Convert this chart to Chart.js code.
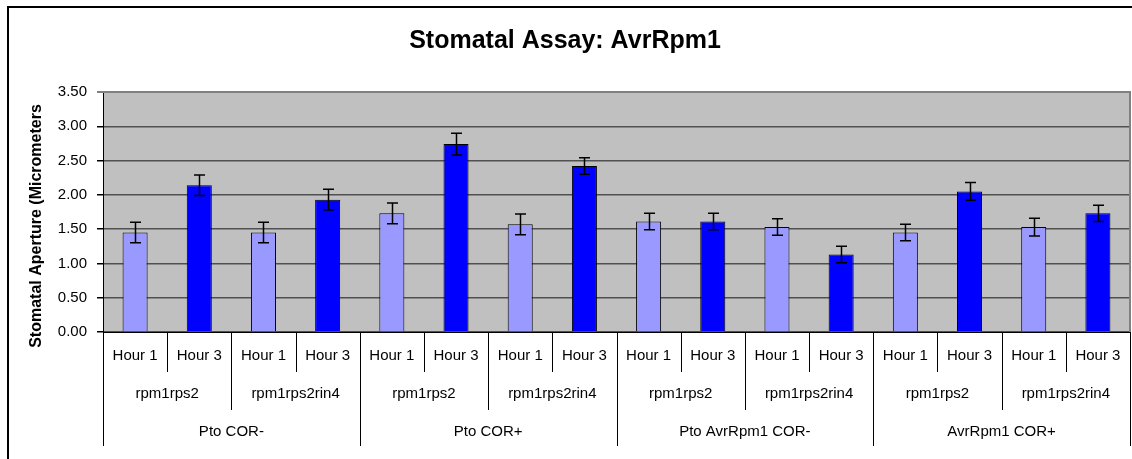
<!DOCTYPE html>
<html>
<head>
<meta charset="utf-8">
<title>Stomatal Assay: AvrRpm1</title>
<script src="https://cdn.jsdelivr.net/npm/chart.js@4.4.1/dist/chart.umd.min.js"></script>
<style>
    html, body { margin: 0; padding: 0; background: #ffffff; }
    #wrap { width: 1132px; height: 459px; }
</style>
</head>
<body>
<div id="wrap"><canvas id="chartStomata" width="1132" height="459"></canvas></div>
<script>
// chart data
var hourLabels = ['Hour 1', 'Hour 3', 'Hour 1', 'Hour 3', 'Hour 1', 'Hour 3', 'Hour 1', 'Hour 3',
                  'Hour 1', 'Hour 3', 'Hour 1', 'Hour 3', 'Hour 1', 'Hour 3', 'Hour 1', 'Hour 3'];
var genotypeLabels = ['rpm1rps2', 'rpm1rps2rin4', 'rpm1rps2', 'rpm1rps2rin4',
                      'rpm1rps2', 'rpm1rps2rin4', 'rpm1rps2', 'rpm1rps2rin4'];
var treatmentLabels = ['Pto COR-', 'Pto COR+', 'Pto AvrRpm1 COR-', 'AvrRpm1 COR+'];
var apertureValues = [1.45, 2.14, 1.45, 1.93, 1.73, 2.74, 1.57, 2.42,
                      1.61, 1.61, 1.53, 1.13, 1.45, 2.05, 1.53, 1.73];
var apertureErrors = [0.15, 0.15, 0.15, 0.15, 0.15, 0.16, 0.15, 0.12,
                      0.12, 0.12, 0.12, 0.12, 0.12, 0.13, 0.13, 0.12];
var yTicks = [0, 0.5, 1, 1.5, 2, 2.5, 3, 3.5];

var FONT = "'Liberation Sans', Arial, sans-serif";
Chart.defaults.font.family = FONT;
Chart.defaults.color = '#000000';

// grey plot area + outer frame
var backgroundPlugin = {
    id: 'plotBackground',
    beforeDraw: function (chart) {
        var ctx = chart.ctx, a = chart.chartArea;
        ctx.save();
        ctx.fillStyle = '#c0c0c0';
        ctx.fillRect(a.left, a.top, a.right - a.left, a.bottom - a.top);
        ctx.strokeStyle = '#000000';
        ctx.lineWidth = 2;
        ctx.beginPath();
        ctx.moveTo(8, 459);
        ctx.lineTo(8, 7);
        ctx.lineTo(1132, 7);
        ctx.stroke();
        ctx.restore();
    },
    afterDraw: function (chart) {
        var ctx = chart.ctx, a = chart.chartArea;
        ctx.save();
        ctx.strokeStyle = '#808080';
        ctx.lineWidth = 2;
        ctx.beginPath();
        ctx.moveTo(97, a.top);
        ctx.lineTo(a.right, a.top);
        ctx.lineTo(a.right, a.bottom);
        ctx.stroke();
        ctx.restore();
    }
};

var errorBarPlugin = {
    id: 'errorBars',
    afterDatasetsDraw: function (chart) {
        var ctx = chart.ctx, y = chart.scales.y;
        var meta = chart.getDatasetMeta(0);
        ctx.save();
        ctx.strokeStyle = '#000000';
        ctx.lineWidth = 1.5;
        meta.data.forEach(function (bar, i) {
            var x = Math.round(bar.x) + 0.5;
            var top = y.getPixelForValue(apertureValues[i] + apertureErrors[i]);
            var bot = y.getPixelForValue(apertureValues[i] - apertureErrors[i]);
            ctx.beginPath();
            ctx.moveTo(x, top); ctx.lineTo(x, bot);
            ctx.moveTo(x - 5.5, top); ctx.lineTo(x + 5.5, top);
            ctx.moveTo(x - 5.5, bot); ctx.lineTo(x + 5.5, bot);
            ctx.stroke();
        });
        ctx.restore();
    }
};

// three-row category axis under the plot
var groupAxisPlugin = {
    id: 'groupAxis',
    afterDraw: function (chart) {
        var ctx = chart.ctx, xs = chart.scales.x, a = chart.chartArea;
        var half = (xs.getPixelForValue(1) - xs.getPixelForValue(0)) / 2;
        ctx.save();
        ctx.fillStyle = '#000000';
        ctx.textAlign = 'center';
        ctx.textBaseline = 'middle';
        ctx.font = '15px ' + FONT;
        hourLabels.forEach(function (lab, i) {
            ctx.fillText(lab, xs.getPixelForValue(i), a.bottom + 24);
        });
        genotypeLabels.forEach(function (lab, g) {
            var cx = (xs.getPixelForValue(g * 2) + xs.getPixelForValue(g * 2 + 1)) / 2;
            ctx.fillText(lab, cx, a.bottom + 62);
        });
        treatmentLabels.forEach(function (lab, t) {
            var cx = (xs.getPixelForValue(t * 4) + xs.getPixelForValue(t * 4 + 3)) / 2;
            ctx.fillText(lab, cx, a.bottom + 100);
        });

        ctx.strokeStyle = '#000000';
        ctx.lineWidth = 1;
        for (var b = 0; b <= hourLabels.length; b++) {
            var bx = b < hourLabels.length ? xs.getPixelForValue(b) - half : xs.getPixelForValue(b - 1) + half;
            bx = Math.round(bx) + 0.5;
            var len = b % 4 === 0 ? 114 : (b % 2 === 0 ? 78 : 40);
            ctx.beginPath();
            ctx.moveTo(bx, a.bottom);
            ctx.lineTo(bx, a.bottom + len);
            ctx.stroke();
        }

        // y axis title (sits a little low, as in the original)
        ctx.translate(37, 226);
        ctx.rotate(-Math.PI / 2);
        ctx.font = 'bold 16px ' + FONT;
        ctx.fillText('Stomatal Aperture (Micrometers', 0, 0);
        ctx.restore();
    }
};

new Chart(document.getElementById('chartStomata'), {
    type: 'bar',
    data: {
        labels: hourLabels,
        datasets: [{
            data: apertureValues,
            backgroundColor: hourLabels.map(function (h) { return h === 'Hour 1' ? '#9999ff' : '#0000ff'; }),
            borderColor: '#000000',
            borderWidth: 1,
            categoryPercentage: 1,
            barPercentage: 0.39
        }]
    },
    options: {
        responsive: false,
        devicePixelRatio: 1,
        animation: false,
        layout: { padding: { left: 0, right: 2, top: 0, bottom: 0 } },
        plugins: {
            legend: { display: false },
            tooltip: { enabled: false },
            title: {
                display: true,
                text: 'Stomatal Assay: AvrRpm1',
                color: '#000000',
                font: { size: 25, weight: 'bold', family: FONT },
                padding: { top: 26, bottom: 36 }
            }
        },
        scales: {
            x: {
                ticks: { display: false },
                grid: { display: false },
                border: { display: true, color: '#000000', width: 1 },
                afterFit: function (scale) { scale.height = 127; }
            },
            y: {
                min: 0,
                max: 3.5,
                afterBuildTicks: function (scale) {
                    scale.ticks = yTicks.map(function (v) { return { value: v }; });
                },
                ticks: {
                    padding: 10,
                    color: '#000000',
                    font: { size: 15 },
                    callback: function (v) { return Number(v).toFixed(2); }
                },
                grid: { color: '#505050', lineWidth: 1.5, tickLength: 6, tickColor: '#000000' },
                border: { display: true, color: '#000000', width: 1 },
                afterFit: function (scale) { scale.width = 103; }
            }
        }
    },
    plugins: [backgroundPlugin, errorBarPlugin, groupAxisPlugin]
});
</script>
</body>
</html>
